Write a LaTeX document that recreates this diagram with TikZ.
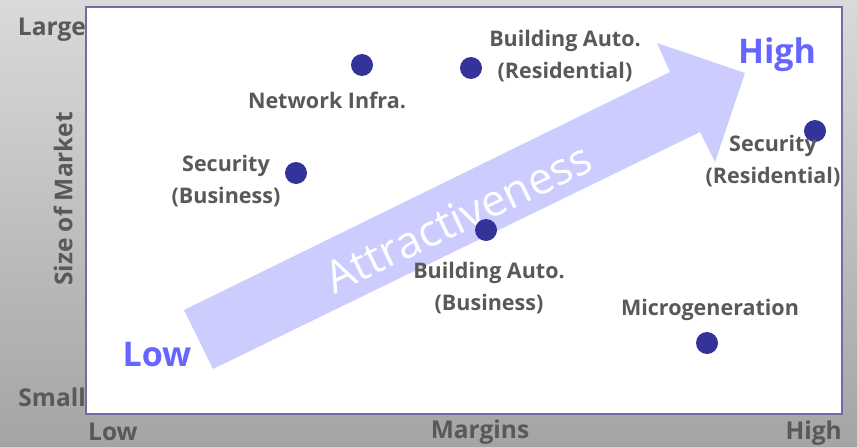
\documentclass[tikz,border=0pt]{standalone}
\usepackage{fontspec}
\setmainfont{Open Sans}
\usetikzlibrary{calc}

\definecolor{bgtop}{HTML}{DADADA}
\definecolor{bgbot}{HTML}{A4A4A4}
\definecolor{framecol}{HTML}{6E6EA6}
\definecolor{arrowfill}{HTML}{CCCCFF}
\definecolor{dotblue}{HTML}{333399}
\definecolor{labelgray}{HTML}{595959}
\definecolor{levelblue}{HTML}{6666FF}

\begin{document}
\begin{tikzpicture}[x=1pt, y=-1pt,
    lbl/.style={text=labelgray, font=\bfseries\fontsize{21.5}{32}\selectfont, align=center, inner sep=0pt},
    axislbl/.style={text=labelgray, font=\bfseries\fontsize{24.5}{26}\selectfont, inner sep=0pt},
    level/.style={text=levelblue, font=\bfseries\fontsize{34}{36}\selectfont, inner sep=0pt},
    dot/.style={circle, fill=dotblue, minimum size=22pt, inner sep=0pt}]
            \useasboundingbox (0, 0) rectangle (857, 447);
            \shade[top color=bgtop, bottom color=bgbot] (0, 0) rectangle (857, 447);
            \draw[framecol, line width=2pt, fill=white] (86, 7) rectangle (842, 414);
            % attractiveness arrow
            \fill[arrowfill] (184, 310) -- (670, 72) -- (657, 43) -- (745, 73) -- (715, 162) -- (700, 132) -- (213, 369) -- cycle;
            \node[rotate=25.5, anchor=base, text=white, font=\fontsize{44}{44}\selectfont, inner sep=0pt] (attr) at (465, 232) {Attractiveness};
            \node[level] (low) at (157, 355) {Low};
            \node[level] (high) at (777, 55) {High};
            % markets
            \node[dot] (netdot) at (362, 65) {};
            \node[lbl] (net) at (327, 100) {Network Infra.};
            \node[dot] (secbdot) at (296, 173) {};
            \node[lbl] (secb) at (226, 181) {Security\\(Business)};
            \node[dot] (bardot) at (471, 68) {};
            \node[lbl] (bar) at (565, 56) {Building Auto.\\(Residential)};
            \node[dot] (secrdot) at (815, 131) {};
            \node[lbl] (secr) at (773, 161) {Security\\(Residential)};
            \node[dot] (babdot) at (486, 230) {};
            \node[lbl] (bab) at (489, 288) {Building Auto.\\(Business)};
            \node[dot] (microdot) at (707, 343) {};
            \node[lbl] (micro) at (710, 310) {Microgeneration};
            % axes
            \node[axislbl, anchor=east] (large) at (86, 30) {Large};
            \node[axislbl, anchor=east] (small) at (86, 397) {Small};
            \node[axislbl, rotate=90] (size) at (63, 199) {Size of Market};
            \node[axislbl, anchor=west] (mlow) at (88, 432) {Low};
            \node[axislbl] (margins) at (480, 432) {Margins};
            \node[axislbl, anchor=east] (mhigh) at (842, 433) {High};
        \end{tikzpicture}
\end{document}
